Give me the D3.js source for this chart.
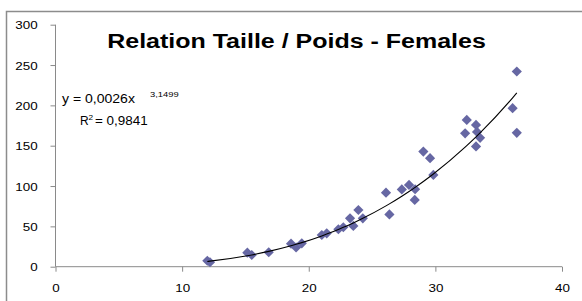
<!DOCTYPE html>
<html>
<head>
<meta charset="utf-8">
<script src="https://cdn.jsdelivr.net/npm/d3@7"></script>
<style>
  html, body { margin: 0; padding: 0; background: #fff; }
  svg { display: block; font-family: "Liberation Sans", Arial, sans-serif; }
</style>
</head>
<body>
<script>
// ---- Data ----
const taille = [11.99, 12.2, 15.15, 15.5, 16.84, 18.6, 19.0, 19.45, 21.03, 21.42,
  22.34, 22.73, 23.26, 23.52, 23.92, 24.27, 26.1, 26.37, 27.35, 27.92,
  28.4, 28.37, 29.05, 29.58, 29.84, 32.48, 33.21, 32.35, 33.29, 33.53,
  33.21, 36.1, 36.43, 36.43];
const poids = [7.4, 5.5, 17.4, 14.5, 17.9, 28.5, 23.8, 29.0, 39.3, 41.4,
  46.4, 48.9, 60.0, 50.5, 70.3, 60.0, 91.8, 64.8, 95.8, 101.4,
  96.0, 82.8, 142.7, 134.5, 113.8, 182, 175.8, 165.3, 167.1, 159.7,
  149.1, 196.5, 242, 166];
const xTicks = [0, 10, 20, 30, 40];
const yTicks = [0, 50, 100, 150, 200, 250, 300];
const fitCoef = 0.0026;
const fitExp = 3.1499;
const titleText = "Relation Taille / Poids - Females";
const eqText = "y = 0,0026x";
const eqExpText = "3,1499";
const r2Label = "R";
const r2Sup = "2";
const r2Text = "= 0,9841";

// ---- Layout ----
const W = 582, H = 301;
const SX = 1.22; // horizontal stretch of the original text
const svg = d3.select("body").append("svg").attr("width", W).attr("height", H);
svg.append("rect").attr("width", W).attr("height", H).attr("fill", "#fff");

// outer frame
svg.append("rect").attr("x", 6.5).attr("y", 11.5).attr("width", 600).attr("height", 320)
  .attr("fill", "none").attr("stroke", "#8c8c8c").attr("stroke-width", 1.5);

const x = d3.scaleLinear().domain([0, 40]).range([55.5, 562]);
const y = d3.scaleLinear().domain([0, 300]).range([266.7, 24.7]);

const axisColor = "#8a8a8a";

// Y axis
const gy = svg.append("g").attr("transform", `translate(${x(0)},0)`)
  .call(d3.axisLeft(y).tickValues(yTicks).tickSize(5).tickFormat(d3.format("d")));
gy.select(".domain").attr("stroke", axisColor).attr("d", `M-0,${y(300)}V${y(0)}`);
gy.selectAll(".tick line").attr("stroke", axisColor);
gy.selectAll(".tick text").attr("x", null).attr("dy", null)
  .attr("transform", `translate(-17.8,4) scale(${SX},1)`)
  .attr("font-size", 11).attr("fill", "#000").attr("font-family", "Liberation Sans, Arial, sans-serif");

// X axis
const gx = svg.append("g").attr("transform", `translate(0,${y(0)})`)
  .call(d3.axisBottom(x).tickValues(xTicks).tickSize(5).tickFormat(d3.format("d")));
gx.select(".domain").attr("stroke", axisColor).attr("d", `M${x(0)},0H${x(40)}`);
gx.selectAll(".tick line").attr("stroke", axisColor);
gx.selectAll(".tick text").attr("y", null).attr("dy", null)
  .attr("transform", `translate(0,24.8) scale(${SX},1)`)
  .attr("font-size", 11).attr("fill", "#000").attr("font-family", "Liberation Sans, Arial, sans-serif");

// Points
const pts = taille.map((t, i) => ({ t, p: poids[i] }));
svg.append("g").selectAll("path").data(pts).join("path")
  .attr("d", d3.symbol(d3.symbolSquare, 52))
  .attr("transform", d => `translate(${x(d.t)},${y(d.p)}) rotate(45)`)
  .attr("fill", "#6667a3");

// Power trendline, evaluated at the data x values
const fitPts = [...taille].sort((a, b) => a - b).map(t => [t, fitCoef * Math.pow(t, fitExp)]);
svg.append("path").datum(fitPts)
  .attr("d", d3.line().x(d => x(d[0])).y(d => y(d[1])).curve(d3.curveMonotoneX))
  .attr("fill", "none").attr("stroke", "#000").attr("stroke-width", 1.1);

// Title
svg.append("text").text(titleText)
  .attr("transform", `translate(296.5,48.3) scale(1.25,1)`)
  .attr("text-anchor", "middle").attr("font-size", 20).attr("font-weight", "bold").attr("fill", "#000");

// Equation
function stext(str, px, py, size, sx) {
  return svg.append("text").text(str)
    .attr("transform", `translate(${px},${py}) scale(${sx},1)`)
    .attr("font-size", size).attr("fill", "#000");
}
stext(eqText, 62, 103, 12, 1.17);
stext(eqExpText, 150, 96.5, 7.5, 1.25);
stext(r2Label, 80, 125, 12, 1.0);
stext(r2Sup, 88.6, 119.5, 7.5, 1.1);
stext(r2Text, 95, 125, 12, 1.12);
</script>
</body>
</html>
